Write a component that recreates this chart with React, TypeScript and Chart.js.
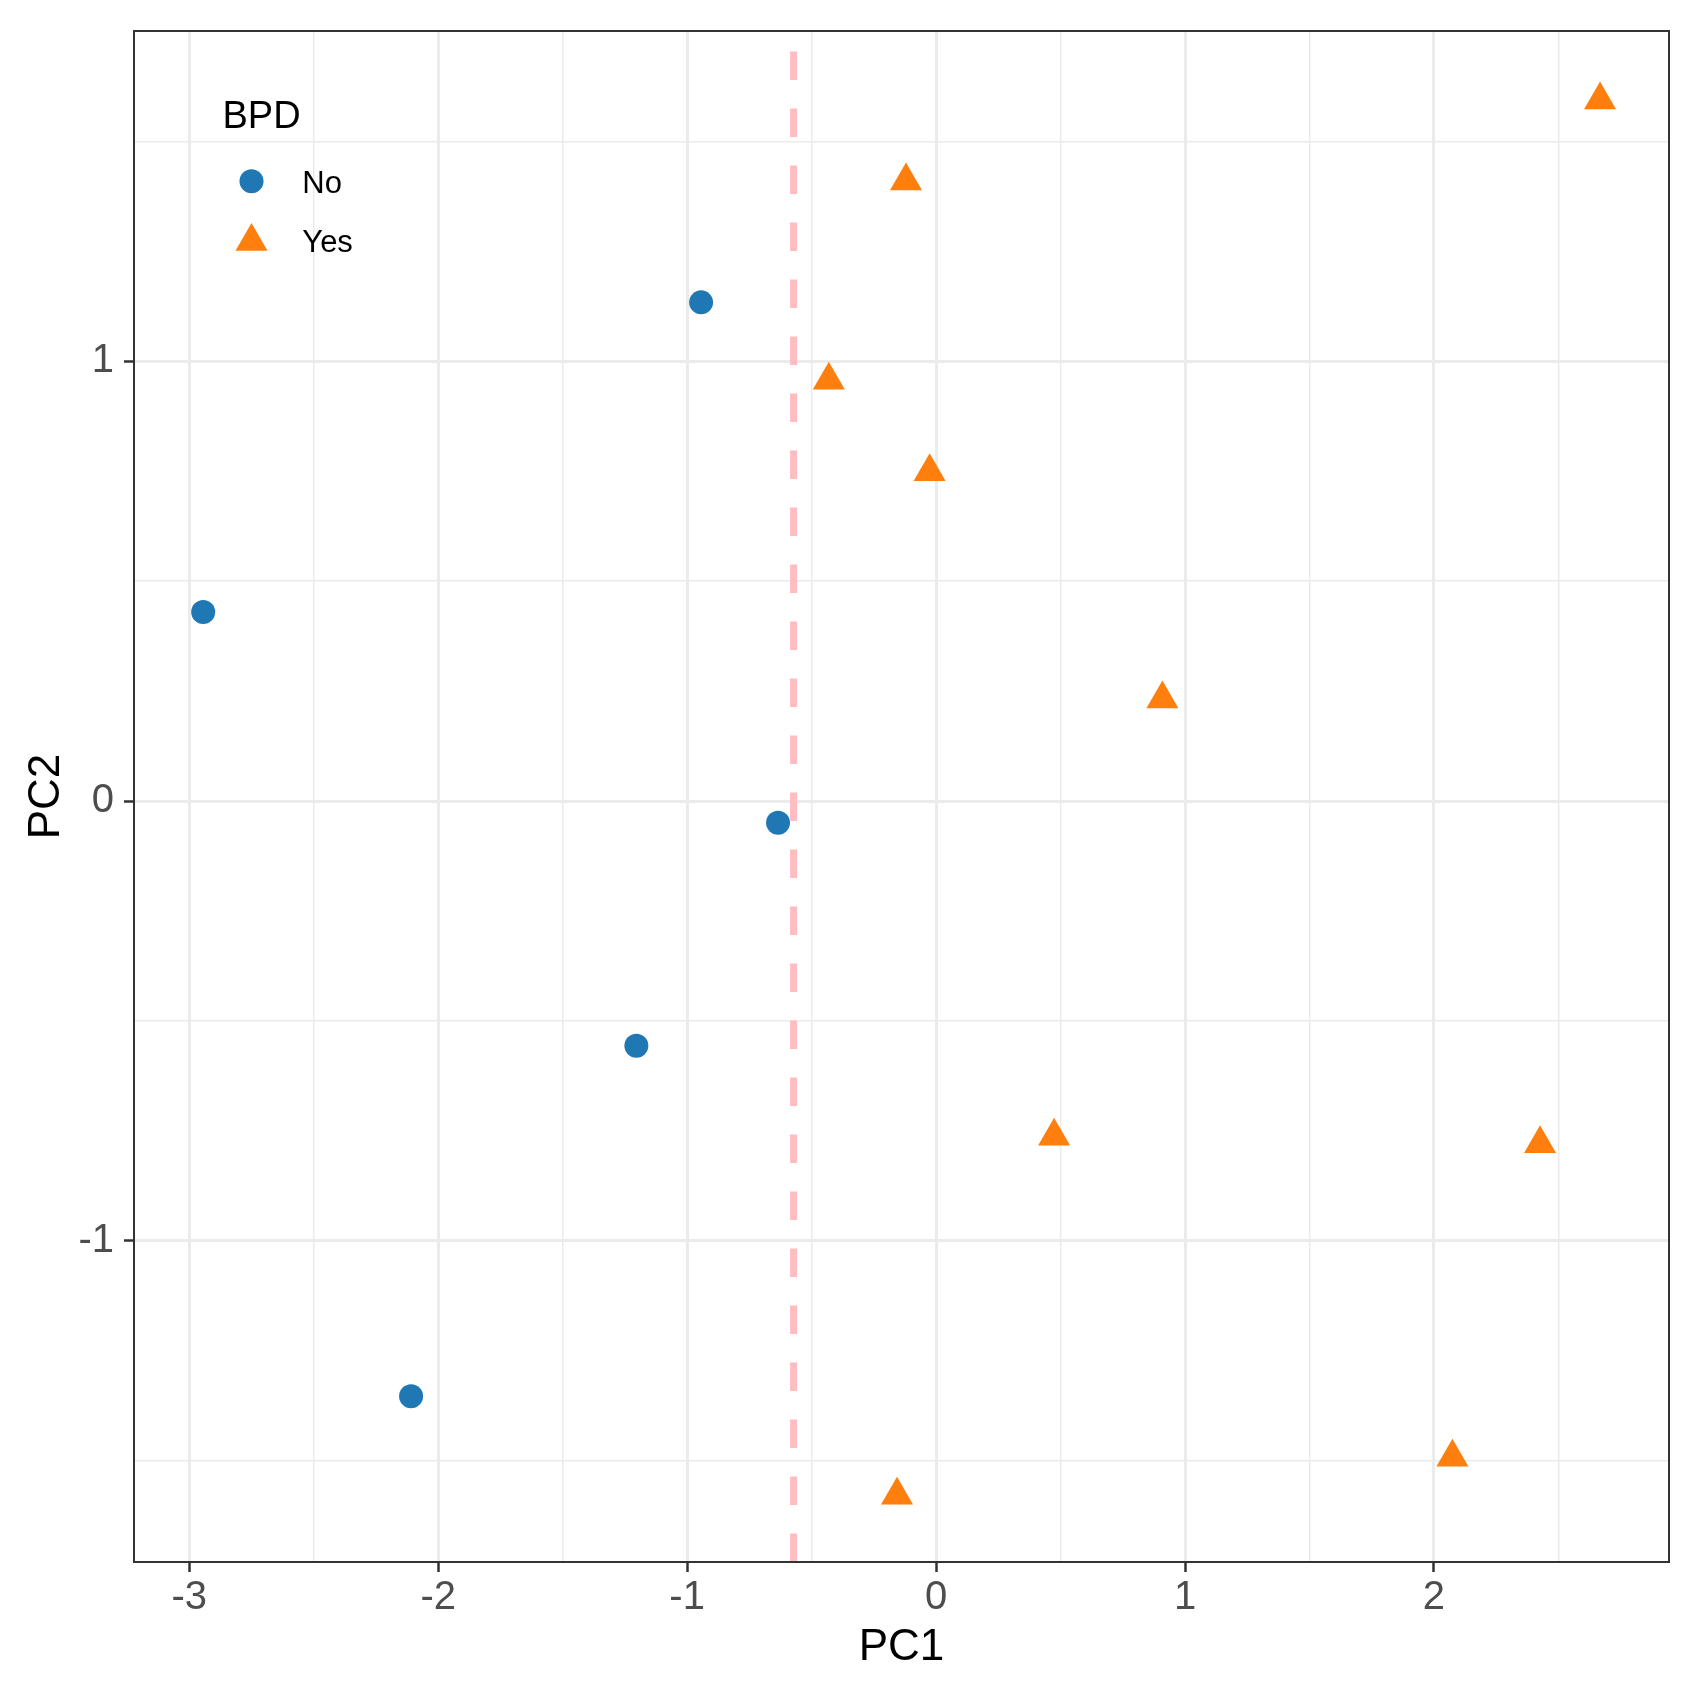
import React, { useEffect, useRef } from 'react';
import { Chart, registerables } from 'chart.js';

Chart.register(...registerables);

// ---- data ----
const noPC1 = [-0.944, -2.944, -0.635, -1.204, -2.109];
const noPC2 = [1.134, 0.43, -0.049, -0.556, -1.353];
const yesPC1 = [2.667, -0.121, -0.431, -0.026, 0.909, 0.474, 2.426, 2.074, -0.157];
const yesPC2 = [1.594, 1.41, 0.957, 0.749, 0.232, -0.762, -0.779, -1.492, -1.578];
const groupLabels = ['No', 'Yes'];
const legendTitle = 'BPD';
const xTitle = 'PC1';
const yTitle = 'PC2';
const cutoffPC1 = -0.5725;
const xRange = [-3.222, 2.944];
const yRange = [-1.73, 1.751];

const FONT = '"Liberation Sans", Arial, Helvetica, sans-serif';
const BLUE = '#1F77B4';
const ORANGE = '#FF7F0E';

const isWhole = (v: number) => Math.abs(v - Math.round(v)) < 1e-6;

export default function App() {
  const ref = useRef<HTMLCanvasElement>(null);

  useEffect(() => {
    const canvas = ref.current;
    if (!canvas) return;

    const panelFrame = {
      id: 'panelFrame',
      afterDatasetsDraw(chart: any) {
        const { ctx, chartArea: a } = chart;
        ctx.save();
        ctx.strokeStyle = '#333333';
        ctx.lineWidth = 2;
        ctx.strokeRect(a.left, a.top, a.right - a.left, a.bottom - a.top);
        ctx.restore();
      },
    };

    const insideLegend = {
      id: 'insideLegend',
      afterDraw(chart: any) {
        const { ctx, chartArea: a } = chart;
        ctx.save();
        ctx.fillStyle = '#000000';
        ctx.textAlign = 'left';
        ctx.textBaseline = 'alphabetic';
        ctx.font = `38px ${FONT}`;
        ctx.fillText(legendTitle, a.left + 88.5, a.top + 97);
        const mx = a.left + 117.5;
        const tx = a.left + 168.3;
        const rows = [
          { y: a.top + 150.3, base: a.top + 162.2 },
          { y: a.top + 210.6, base: a.top + 221.2 },
        ];
        groupLabels.forEach((lab, i) => {
          const ds = chart.data.datasets[i];
          const r = ds.pointRadius as number;
          const cy = rows[i].y;
          ctx.fillStyle = ds.backgroundColor;
          ctx.beginPath();
          if (ds.pointStyle === 'triangle') {
            ctx.moveTo(mx, cy - r);
            ctx.lineTo(mx + (r * Math.sqrt(3)) / 2, cy + r / 2);
            ctx.lineTo(mx - (r * Math.sqrt(3)) / 2, cy + r / 2);
            ctx.closePath();
          } else {
            ctx.arc(mx, cy, r, 0, Math.PI * 2);
          }
          ctx.fill();
          ctx.fillStyle = '#000000';
          ctx.font = `31px ${FONT}`;
          ctx.fillText(lab, tx, rows[i].base);
        });
        ctx.restore();
      },
    };

    const gridColor = '#EBEBEB';
    const gridWidth = (c: any) => (isWhole(c.tick?.value ?? 0) ? 3 : 1.5);
    const tickColor = (c: any) => (isWhole(c.tick?.value ?? 0) ? '#333333' : 'rgba(0,0,0,0)');
    const tickCb = (v: any) => (isWhole(Number(v)) ? String(Math.round(Number(v))) : '');

    const chart = new Chart(canvas, {
      type: 'scatter',
      data: {
        datasets: [
          {
            label: groupLabels[0],
            data: noPC1.map((x, i) => ({ x, y: noPC2[i] })),
            backgroundColor: BLUE,
            borderColor: BLUE,
            pointStyle: 'circle',
            pointRadius: 12,
            pointBorderWidth: 0,
          },
          {
            label: groupLabels[1],
            data: yesPC1.map((x, i) => ({ x, y: yesPC2[i] })),
            backgroundColor: ORANGE,
            borderColor: ORANGE,
            pointStyle: 'triangle',
            pointRadius: 18.5,
            pointBorderWidth: 0,
          },
          {
            label: 'cutoff',
            type: 'line',
            data: [
              { x: cutoffPC1, y: yRange[0] },
              { x: cutoffPC1, y: yRange[1] },
            ],
            borderColor: '#FFBDC2',
            borderWidth: 7,
            borderDash: [28.5, 28.5],
            borderCapStyle: 'butt',
            pointRadius: 0,
            showLine: true,
            fill: false,
          } as any,
        ],
      },
      options: {
        responsive: false,
        animation: false,
        layout: { padding: { top: 31, right: 28, left: 0, bottom: 0 } },
        plugins: {
          legend: { display: false },
          tooltip: { enabled: false },
        },
        scales: {
          x: {
            type: 'linear',
            position: 'bottom',
            min: xRange[0],
            max: xRange[1],
            afterFit: (s: any) => {
              s.height = 129;
              s.paddingLeft = 0;
              s.paddingRight = 0;
            },
            border: { display: false },
            grid: {
              color: gridColor,
              lineWidth: gridWidth,
              tickColor: tickColor,
              tickWidth: 2.5,
              tickLength: 10,
            },
            ticks: {
              stepSize: 0.5,
              maxTicksLimit: 30,
              includeBounds: false,
              autoSkip: false,
              maxRotation: 0,
              padding: 2,
              color: '#4D4D4D',
              font: { family: FONT, size: 40 },
              callback: tickCb,
            },
            title: {
              display: true,
              text: xTitle,
              color: '#000000',
              font: { family: FONT, size: 44 },
              padding: { top: 0, bottom: 17 },
            },
          },
          y: {
            type: 'linear',
            position: 'left',
            min: yRange[0],
            max: yRange[1],
            afterFit: (s: any) => {
              s.width = 134;
              s.paddingTop = 0;
              s.paddingBottom = 0;
            },
            border: { display: false },
            grid: {
              color: gridColor,
              lineWidth: gridWidth,
              tickColor: tickColor,
              tickWidth: 2.5,
              tickLength: 10,
            },
            ticks: {
              stepSize: 0.5,
              maxTicksLimit: 30,
              includeBounds: false,
              autoSkip: false,
              padding: 10,
              color: '#4D4D4D',
              font: { family: FONT, size: 40 },
              callback: tickCb,
            },
            title: {
              display: true,
              text: yTitle,
              color: '#000000',
              font: { family: FONT, size: 44 },
              padding: { top: 20, bottom: 0 },
            },
          },
        },
      },
      plugins: [panelFrame, insideLegend],
    } as any);

    return () => chart.destroy();
  }, []);

  return (
    <div style={{ position: 'absolute', left: 0, top: 0, width: 1697, height: 1691, background: '#ffffff' }}>
      <canvas ref={ref} width={1697} height={1691} style={{ display: 'block', width: 1697, height: 1691 }} />
    </div>
  );
}
